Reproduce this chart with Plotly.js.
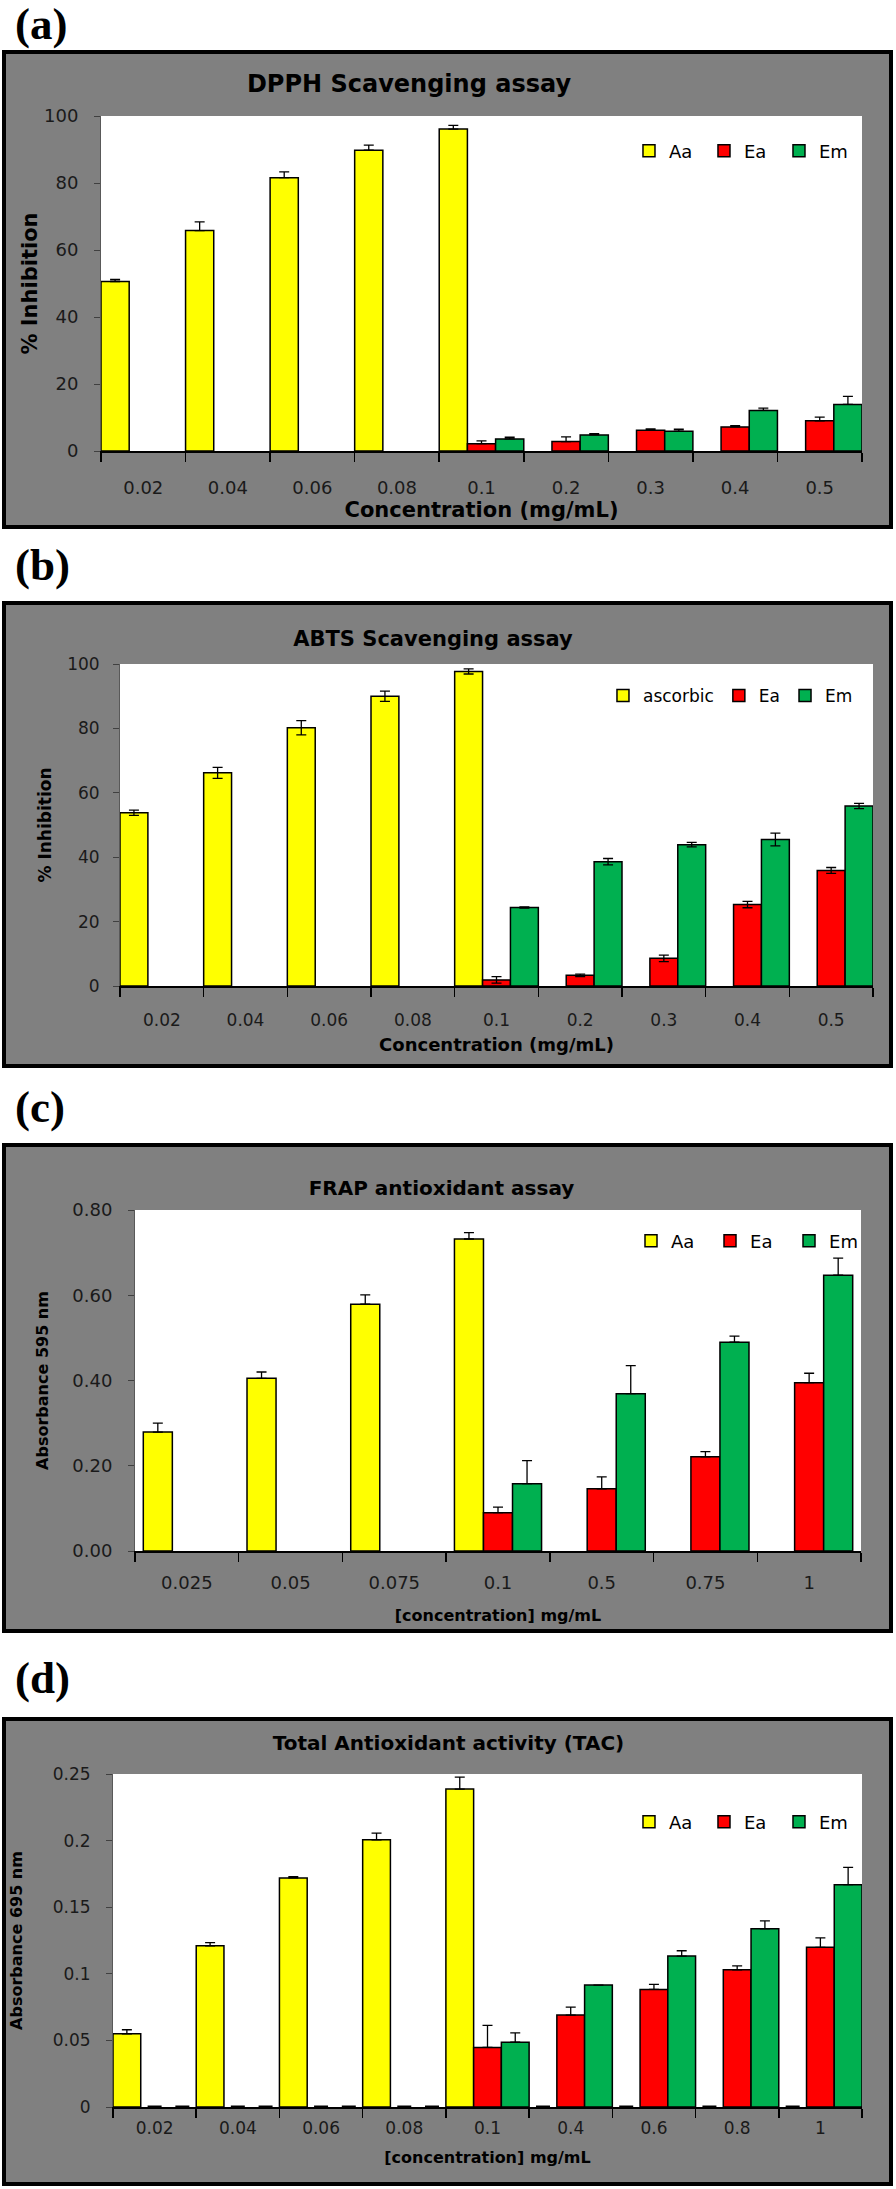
<!DOCTYPE html>
<html><head><meta charset="utf-8">
<script src="https://cdn.plot.ly/plotly-3.0.1.min.js"></script>
<style>
body{margin:0;background:#fff;width:896px;height:2189px;position:relative;overflow:hidden;}
.lbl{position:absolute;left:15px;font-family:"Liberation Serif","Times New Roman",serif;font-weight:bold;font-size:45px;line-height:45px;color:#000;}
.frame{position:absolute;left:2px;width:891px;border:4px solid #000;background:#808080;box-sizing:border-box;}
.plot{width:883px;}
</style></head><body>
<div class="lbl" style="top:2px">(a)</div>
<div class="frame" style="top:50px;height:479px"><div id="pa" class="plot"></div></div>
<div class="lbl" style="top:543px">(b)</div>
<div class="frame" style="top:601px;height:467px"><div id="pb" class="plot"></div></div>
<div class="lbl" style="top:1085px">(c)</div>
<div class="frame" style="top:1143px;height:490px"><div id="pc" class="plot"></div></div>
<div class="lbl" style="top:1656px">(d)</div>
<div class="frame" style="top:1717px;height:469px"><div id="pd" class="plot"></div></div>
<script>
// ---------- DATA ----------
// (a) DPPH
const dpphCats = ['0.02','0.04','0.06','0.08','0.1','0.2','0.3','0.4','0.5'];
const dpphAa    = [50.6, 65.8, 81.6, 89.8, 96.1, null, null, null, null];
const dpphAaErr = [0.6, 2.6, 1.7, 1.5, 1.1, null, null, null, null];
const dpphEa    = [null, null, null, null, 2.2, 2.8, 6.2, 7.2, 9.0];
const dpphEaErr = [null, null, null, null, 0.8, 1.4, 0.4, 0.4, 1.1];
const dpphEm    = [null, null, null, null, 3.6, 4.8, 5.9, 12.1, 13.9];
const dpphEmErr = [null, null, null, null, 0.5, 0.4, 0.6, 0.7, 2.4];
// (b) ABTS
const abtsCats = ['0.02','0.04','0.06','0.08','0.1','0.2','0.3','0.4','0.5'];
const abtsAsc    = [53.8, 66.2, 80.2, 90.0, 97.7, null, null, null, null];
const abtsAscErr = [0.8, 1.7, 2.2, 1.6, 0.8, null, null, null, null];
const abtsEa     = [null, null, null, null, 1.9, 3.3, 8.6, 25.3, 35.9];
const abtsEaErr  = [null, null, null, null, 1.0, 0.4, 1.0, 1.0, 0.9];
const abtsEm     = [null, null, null, null, 24.4, 38.6, 43.9, 45.5, 55.9];
const abtsEmErr  = [null, null, null, null, 0.2, 1.0, 0.7, 2.0, 0.8];
// (c) FRAP
const frapCats = ['0.025','0.05','0.075','0.1','0.5','0.75','1'];
const frapAa    = [0.279, 0.405, 0.579, 0.732, null, null, null];
const frapAaErr = [0.021, 0.015, 0.022, 0.015, null, null, null];
const frapEa    = [null, null, null, 0.090, 0.146, 0.221, 0.395];
const frapEaErr = [null, null, null, 0.013, 0.028, 0.012, 0.022];
const frapEm    = [null, null, null, 0.158, 0.369, 0.490, 0.647];
const frapEmErr = [null, null, null, 0.054, 0.066, 0.014, 0.040];
// (d) TAC
const tacCats = ['0.02','0.04','0.06','0.08','0.1','0.4','0.6','0.8','1'];
const tacAa    = [0.055, 0.121, 0.172, 0.2006, 0.2387, null, null, null, null];
const tacAaErr = [0.003, 0.0024, 0.001, 0.005, 0.009, null, null, null, null];
const tacEa    = [null, null, null, null, 0.0447, 0.069, 0.0883, 0.103, 0.1199];
const tacEaErr = [null, null, null, null, 0.0166, 0.006, 0.0037, 0.003, 0.007];
const tacEm    = [null, null, null, null, 0.0486, 0.0915, 0.1133, 0.1338, 0.1669];
const tacEmErr = [null, null, null, null, 0.007, 0, 0.004, 0.006, 0.013];

// ---------- STYLE ----------
const COLORS = ['#FFFF00', '#FF0000', '#00B050'];
const SANS = 'DejaVu Sans, Verdana, sans-serif';

function makePanel(id, o) {
  const traces = o.series.map((s, i) => ({
    type: 'bar', name: s.name, x: o.cats, y: s.y,
    marker: {color: COLORS[i], line: {color: '#000', width: 1.5}},
    error_y: o.sym ? {type: 'data', array: s.err, symmetric: true, color: '#000', thickness: 1.3, width: 5}
                   : {type: 'data', array: s.err, arrayminus: s.err.map(v => v === null ? null : 0), symmetric: false, color: '#000', thickness: 1.3, width: 5},
    hoverinfo: 'skip'
  }));
  if (o.zeroDash) {
    o.series.forEach(s => {
      traces.push({type: 'scatter', mode: 'markers', x: o.cats, y: s.y.map(v => v === null ? 0 : null),
        marker: {symbol: 'line-ew', size: 10, color: '#000', line: {width: 3, color: '#000'}},
        showlegend: false, hoverinfo: 'skip', cliponaxis: false});
    });
  }
  const layout = {
    width: 883, height: o.h,
    margin: o.margin,
    paper_bgcolor: '#808080', plot_bgcolor: '#ffffff',
    barmode: 'group', bargap: o.bargap, bargroupgap: 0,
    scattermode: 'group', scattergap: o.bargap,
    title: {text: o.title, font: {family: SANS, size: o.titleSize, color: '#000', weight: 700},
            x: o.titleX, xref: 'container', xanchor: 'center', y: o.titleY, yref: 'container', yanchor: 'middle'},
    xaxis: {type: 'category', tickson: 'boundaries', ticks: 'outside', ticklen: 9, tickwidth: 1.5, tickcolor: '#000',
            showline: true, linecolor: '#000', linewidth: 2, showgrid: false, zeroline: false,
            tickfont: {family: SANS, size: o.tickSize, color: '#1a1a1a'}, ticklabelstandoff: o.xLabStand,
            title: {text: o.xTitle, font: {family: SANS, size: o.xTitleSize, color: '#000', weight: 700}, standoff: o.xTitleStand}},
    yaxis: {range: o.yRange, tick0: 0, dtick: o.dtick, tickformat: o.yFmt, ticks: 'outside', ticklen: 6, tickcolor: '#404040',
            showline: true, linecolor: '#595959', linewidth: 1, showgrid: false, zeroline: false,
            tickfont: {family: SANS, size: o.tickSize, color: '#1a1a1a'}, ticklabelstandoff: o.yLabStand,
            title: {text: o.yTitle, font: {family: SANS, size: o.yTitleSize, color: '#000', weight: 700}, standoff: o.yTitleStand}},
    legend: {orientation: 'h', x: o.legX, xanchor: 'left', y: o.legY, yanchor: 'middle', bgcolor: 'rgba(0,0,0,0)',
             font: {family: SANS, size: o.legSize, color: '#000'}, traceorder: 'normal', entrywidth: o.entryW},
    showlegend: true
  };
  Plotly.newPlot(id, traces, layout, {staticPlot: true, displayModeBar: false});
}

makePanel('pa', {
  cats: dpphCats, sym: false,
  series: [{name: 'Aa', y: dpphAa, err: dpphAaErr}, {name: 'Ea', y: dpphEa, err: dpphEaErr}, {name: 'Em', y: dpphEm, err: dpphEmErr}],
  h: 471, margin: {l: 95, r: 27, t: 62, b: 74, pad: 0}, bargap: 0,
  title: 'DPPH Scavenging assay', titleSize: 24, titleX: 0.4564, titleY: 0.9363,
  tickSize: 18, xLabStand: 19, xTitle: 'Concentration (mg/mL)', xTitleSize: 21, xTitleStand: 0,
  yRange: [0, 100], dtick: 20, yFmt: '', yLabStand: 12, yTitle: '% Inhibition', yTitleSize: 21, yTitleStand: 0,
  legX: 0.6938, legY: 0.8955, legSize: 18, entryW: 30
});
makePanel('pb', {
  cats: abtsCats, sym: true,
  series: [{name: 'ascorbic', y: abtsAsc, err: abtsAscErr}, {name: 'Ea', y: abtsEa, err: abtsEaErr}, {name: 'Em', y: abtsEm, err: abtsEmErr}],
  h: 459, margin: {l: 114, r: 16, t: 59, b: 78, pad: 0}, bargap: 0,
  title: 'ABTS Scavenging assay', titleSize: 21, titleX: 0.4836, titleY: 0.9259,
  tickSize: 17, xLabStand: 18, xTitle: 'Concentration (mg/mL)', xTitleSize: 18, xTitleStand: 9,
  yRange: [0, 100], dtick: 20, yFmt: '', yLabStand: 10, yTitle: '% Inhibition', yTitleSize: 17, yTitleStand: 11,
  legX: 0.6414, legY: 0.9006, legSize: 17, entryW: null
});
makePanel('pc', {
  cats: frapCats, sym: false,
  series: [{name: 'Aa', y: frapAa, err: frapAaErr}, {name: 'Ea', y: frapEa, err: frapEaErr}, {name: 'Em', y: frapEm, err: frapEmErr}],
  h: 482, margin: {l: 129, r: 28, t: 63, b: 78, pad: 0}, bargap: 0.16,
  title: 'FRAP antioxidant assay', titleSize: 20, titleX: 0.4932, titleY: 0.9149,
  tickSize: 18, xLabStand: 14, xTitle: '[concentration] mg/mL', xTitleSize: 16, xTitleStand: 18,
  yRange: [0, 0.8], dtick: 0.2, yFmt: '.2f', yLabStand: 12, yTitle: 'Absorbance 595 nm', yTitleSize: 16, yTitleStand: 19,
  legX: 0.6832, legY: 0.9091, legSize: 18, entryW: 34
});
makePanel('pd', {
  cats: tacCats, sym: false, zeroDash: true,
  series: [{name: 'Aa', y: tacAa, err: tacAaErr}, {name: 'Ea', y: tacEa, err: tacEaErr}, {name: 'Em', y: tacEm, err: tacEmErr}],
  h: 461, margin: {l: 107, r: 27, t: 53, b: 75, pad: 0}, bargap: 0,
  title: 'Total Antioxidant activity (TAC)', titleSize: 20, titleX: 0.5011, titleY: 0.9523,
  tickSize: 17, xLabStand: 5, xTitle: '[concentration] mg/mL', xTitleSize: 16, xTitleStand: 14,
  yRange: [0, 0.25], dtick: 0.05, yFmt: '', yLabStand: 12, yTitle: 'Absorbance 695 nm', yTitleSize: 16, yTitleStand: 26,
  legX: 0.6889, legY: 0.8559, legSize: 18, entryW: 30
});
</script>
</body></html>
